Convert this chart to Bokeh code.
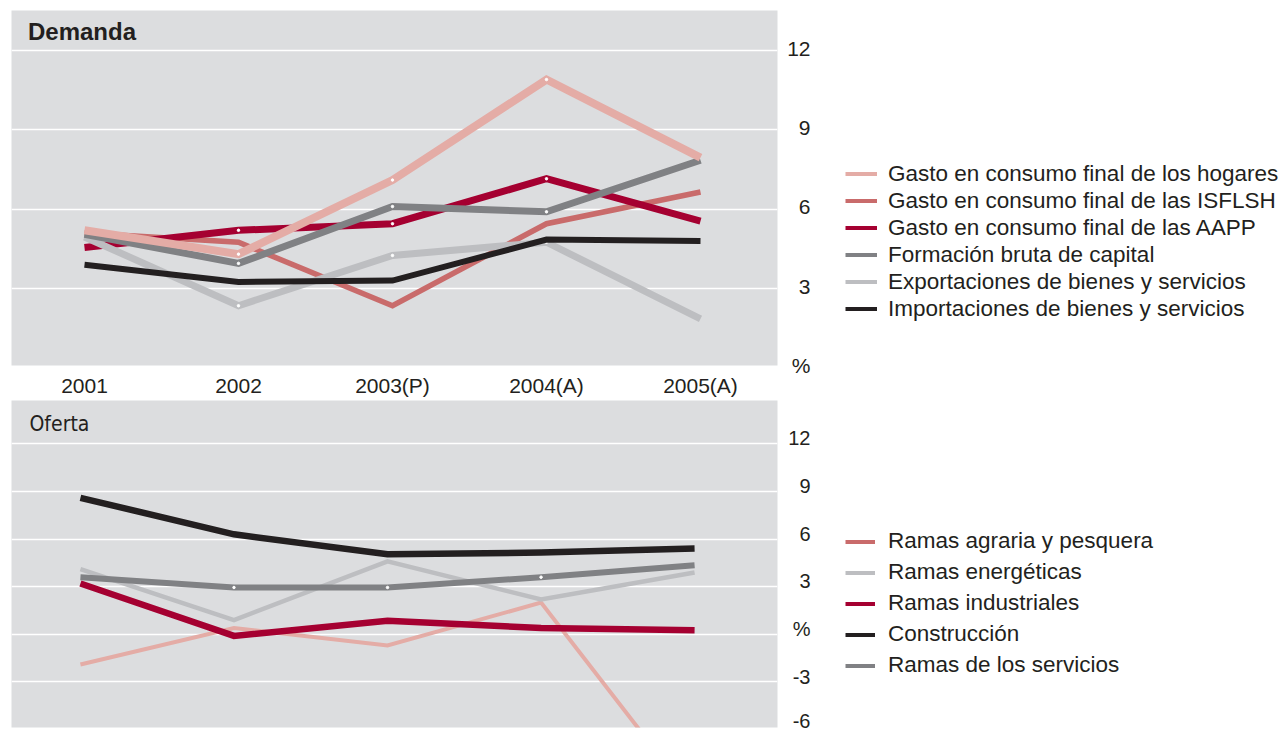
from bokeh.plotting import figure
from bokeh.layouts import column, row
from bokeh.models import Range1d, FixedTicker, Grid, Label, Legend, LegendItem
from bokeh.embed import file_html
from bokeh.resources import INLINE

# ---------------- data ----------------
years = ["2001", "2002", "2003(P)", "2004(A)", "2005(A)"]
xi = list(range(len(years)))

# Demanda (%)
hogares = [5.2, 4.3, 7.1, 10.9, 7.95]
isflsh = [5.1, 4.75, 2.35, 5.45, 6.65]
aapp = [4.55, 5.2, 5.45, 7.15, 5.55]
formacion = [5.05, 3.95, 6.1, 5.9, 7.85]
exportaciones = [4.95, 2.35, 4.25, 4.75, 1.85]
importaciones = [3.9, 3.25, 3.3, 4.85, 4.8]

# Oferta (%)
agraria = [-1.9, 0.4, -0.7, 2.0, -10.5]
energeticas = [4.1, 0.9, 4.6, 2.2, 3.9]
industriales = [3.2, -0.1, 0.85, 0.4, 0.25]
construccion = [8.6, 6.3, 5.05, 5.15, 5.4]
servicios = [3.6, 2.95, 2.95, 3.6, 4.35]

top_ticks = [0, 3, 6, 9, 12]
top_tick_labels = ["%", "3", "6", "9", "12"]
bot_ticks = [-6, -3, 0, 3, 6, 9, 12]
bot_tick_labels = ["-6", "-3", "%", "3", "6", "9", "12"]

legend_top = [
    "Gasto en consumo final de los hogares",
    "Gasto en consumo final de las ISFLSH",
    "Gasto en consumo final de las AAPP",
    "Formación bruta de capital",
    "Exportaciones de bienes y servicios",
    "Importaciones de bienes y servicios",
]
legend_bot = [
    "Ramas agraria y pesquera",
    "Ramas energéticas",
    "Ramas industriales",
    "Construcción",
    "Ramas de los servicios",
]

# ---------------- styles ----------------
BG = "#dcdddf"
TXT = "#231f20"
C_PINK = "#e4aca6"
C_SALMON = "#c96b6b"
C_CRIMSON = "#a50031"
C_GRAY = "#808184"
C_LGRAY = "#bdbec1"
C_BLACK = "#231f20"
FONT = "Liberation Sans"
NAN = float("nan")


def style_main(p):
    p.background_fill_color = BG
    p.border_fill_color = "white"
    p.outline_line_color = None
    p.grid.visible = False


def style_ticks_axis(ax, size="21px"):
    ax.axis_line_color = None
    ax.major_tick_line_color = None
    ax.minor_tick_line_color = None
    ax.major_tick_out = 0
    ax.major_tick_in = 0
    ax.minor_tick_out = 0
    ax.minor_tick_in = 0
    ax.major_label_text_font = FONT
    ax.major_label_text_font_size = size
    ax.major_label_text_color = TXT


def legend_fig(height, y_range, ticks, labels, border_top, border_bottom, size):
    f = figure(width=505, height=height, x_range=Range1d(0, 1), y_range=y_range,
               x_axis_location=None, y_axis_location="left", output_backend="svg",
               toolbar_location=None, min_border_left=40, min_border_right=0,
               min_border_top=border_top, min_border_bottom=border_bottom)
    f.outline_line_color = None
    f.grid.visible = False
    a = f.yaxis[0]
    a.ticker = FixedTicker(ticks=ticks)
    a.major_label_overrides = {t: s for t, s in zip(ticks, labels)}
    a.major_label_standoff = 10
    style_ticks_axis(a, size)
    return f


# ---------------- top: Demanda ----------------
p1 = figure(width=780, height=400, x_range=Range1d(-0.474, 4.5), y_range=Range1d(0.09, 13.51),
            y_axis_location=None, output_backend="svg", toolbar_location=None,
            min_border_left=11, min_border_right=3, min_border_top=10, min_border_bottom=35)
style_main(p1)
p1.add_layout(Grid(dimension=1, ticker=FixedTicker(ticks=[3, 6, 9, 12]),
                   grid_line_color="white", grid_line_width=1.5))
ax = p1.xaxis[0]
ax.ticker = FixedTicker(ticks=xi)
ax.major_label_overrides = {i: y for i, y in zip(xi, years)}
ax.major_label_standoff = 8
style_ticks_axis(ax)

top_series = [
    (isflsh, C_SALMON, 5.5, False),
    (aapp, C_CRIMSON, 7, True),
    (exportaciones, C_LGRAY, 7, True),
    (importaciones, C_BLACK, 6, False),
    (formacion, C_GRAY, 7, True),
    (hogares, C_PINK, 8, True),
]
for ys, c, w, dots in top_series:
    p1.line(xi, ys, line_color=c, line_width=w, line_join="miter", line_cap="butt")
    if dots:
        p1.scatter(xi[1:4], ys[1:4], size=2.5, color="white")

p1.add_layout(Label(x=16.5, y=334.3, x_units="screen", y_units="screen", text="Demanda",
                    text_font=FONT, text_font_size="24px", text_font_style="bold",
                    text_color=TXT, text_baseline="alphabetic"))

l1 = legend_fig(400, Range1d(-0.01, 13.44), top_ticks, top_tick_labels, 10, 35, "21px")
top_leg_colors = [C_PINK, C_SALMON, C_CRIMSON, C_GRAY, C_LGRAY, C_BLACK]
items = []
for lab, c in zip(legend_top, top_leg_colors):
    r = l1.line([NAN], [NAN], line_color=c, line_width=4)
    items.append(LegendItem(label=lab, renderers=[r]))
leg1 = Legend(items=items, location=(25, 43), padding=0, margin=0, glyph_width=32,
              glyph_height=27, label_height=27, spacing=0, label_standoff=11,
              background_fill_alpha=0, border_line_color=None,
              label_text_font=FONT, label_text_font_size="22.5px", label_text_color=TXT)
l1.add_layout(leg1)

# ---------------- bottom: Oferta ----------------
p2 = figure(width=780, height=331, x_range=Range1d(-0.449, 4.54), y_range=Range1d(-5.87, 14.73),
            x_axis_location=None, y_axis_location=None, output_backend="svg",
            toolbar_location=None, min_border_left=11, min_border_right=3,
            min_border_top=0, min_border_bottom=4)
style_main(p2)
p2.add_layout(Grid(dimension=1, ticker=FixedTicker(ticks=[-3, 0, 3, 6, 9, 12]),
                   grid_line_color="white", grid_line_width=1.5))

bot_series = [
    (agraria, C_PINK, 4, False),
    (energeticas, C_LGRAY, 4.5, False),
    (industriales, C_CRIMSON, 6.5, False),
    (servicios, C_GRAY, 6, True),
    (construccion, C_BLACK, 6.5, False),
]
for ys, c, w, dots in bot_series:
    p2.line(xi, ys, line_color=c, line_width=w, line_join="miter", line_cap="butt")
    if dots:
        p2.scatter(xi[1:4], ys[1:4], size=2.5, color="white")

p2.add_layout(Label(x=18, y=304, x_units="screen", y_units="screen", text="Oferta",
                    text_font="DejaVu Sans Condensed, Liberation Sans", text_font_size="21px",
                    text_color=TXT, text_baseline="alphabetic"))

l2 = legend_fig(331, Range1d(-6.19, 14.39), bot_ticks, bot_tick_labels, 0, 4, "20px")
bot_leg_colors = [C_SALMON, C_LGRAY, C_CRIMSON, C_BLACK, C_GRAY]
items2 = []
for lab, c in zip(legend_bot, bot_leg_colors):
    r = l2.line([NAN], [NAN], line_color=c, line_width=4)
    items2.append(LegendItem(label=lab, renderers=[r]))
leg2 = Legend(items=items2, location=(25, 48.5), padding=0, margin=0, glyph_width=30,
              glyph_height=27, label_height=27, spacing=4, label_standoff=13,
              background_fill_alpha=0, border_line_color=None,
              label_text_font=FONT, label_text_font_size="22.5px", label_text_color=TXT)
l2.add_layout(leg2)

layout = column(row(p1, l1), row(p2, l2))
open("out.html", "w").write(file_html(layout, INLINE))
